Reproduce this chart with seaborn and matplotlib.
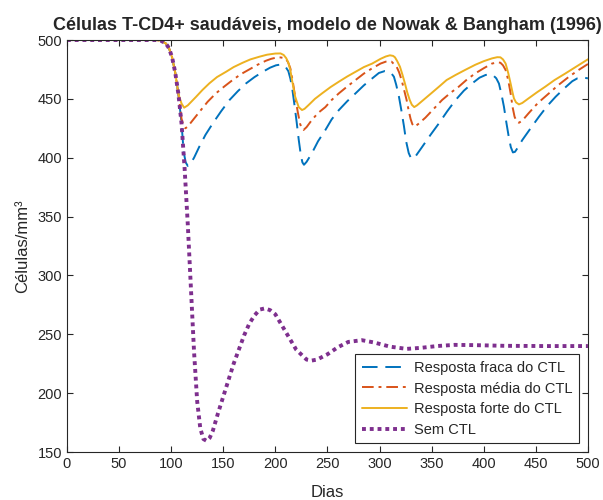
import numpy as np
import pandas as pd
import matplotlib
matplotlib.use("Agg")
import matplotlib.pyplot as plt
import seaborn as sns

# valores (dias, celulas/mm3)
dias_fraca = [0, 85, 90, 95, 98, 101, 104, 107, 110, 112, 114, 116, 118, 122, 127, 133, 140,
              148, 156, 164, 172, 180, 188, 195, 200.6, 204, 207, 210, 212.5, 214.5, 216.5,
              218.5, 220.5, 222.5, 224.5, 226, 227.5, 230, 235, 241, 248, 254, 261, 269, 277,
              285, 293, 299.4, 305, 309, 311.5, 313.8, 316, 318.6, 321, 323.4, 325.5, 328, 330,
              331.5, 334, 341, 349, 357, 365, 373, 381, 389, 396, 401.8, 406, 409, 412, 414.6,
              417, 419.4, 421.7, 424, 426, 428, 430, 433, 437, 445, 453, 461, 469, 478, 485,
              490, 494.6, 500]
cel_fraca = [500, 500, 499.5, 497, 493, 485, 472, 454, 429, 405, 396, 393, 394, 400, 409.3,
             419.5, 429.2, 439.5, 449, 456.5, 463.2, 468.5, 473, 476.5, 478.5, 479, 478.8, 477,
             473.5, 467, 457, 444, 430, 415, 402, 396, 394, 396.5, 403.7, 414, 423.5, 432.5,
             440.5, 448, 454.7, 461.5, 467.4, 472, 473.6, 473, 471.5, 468.8, 462, 452, 440, 427,
             414, 404, 400, 399, 400.5, 409.3, 419.5, 429.2, 439.5, 449, 457, 463.2, 468, 470.3,
             470.8, 470, 467.5, 463, 454, 443.3, 430, 417.8, 409, 404.5, 405, 409, 415, 425,
             434.8, 444, 451.8, 459.5, 465, 467.5, 468.3, 467.4]

dias_media = [0, 85, 90, 95, 98, 101, 104, 107, 110, 112, 113.7, 116, 120, 127.2, 135, 143,
              151, 159, 167, 175, 183, 191, 196, 200.6, 205, 209.6, 212, 214.4, 216.5, 219,
              221.5, 223.7, 225.5, 227, 230, 235, 241, 248, 254, 261, 269, 277, 285, 293, 301,
              306, 311.5, 316.4, 318.8, 321.2, 323.6, 326, 328, 329.8, 331.5, 333.6, 337, 344,
              352, 360, 368, 376, 384, 392, 400, 408, 413, 416, 418.5, 421, 423.5, 425.8,
              427.7, 429.6, 431.5, 433.8, 437, 443, 452, 462.6, 472, 481.8, 491, 500]
cel_media = [500, 500, 499.5, 497, 493, 485, 472, 454, 433, 427, 425, 426.5, 431, 439, 447.5,
             454.7, 460.5, 466, 471, 475, 479, 482.4, 484, 485, 485.2, 484.4, 481.5, 476, 466,
             452, 439, 429, 424.5, 423.5, 426, 432, 438, 443, 449, 454.7, 460.5, 466, 471.5,
             476, 480, 481.6, 481.6, 477.3, 472.5, 466, 457.5, 449, 440, 433, 428.5, 426.3,
             428.5, 434, 441.5, 449, 455, 460.3, 466.5, 471.7, 476, 480, 481, 480.7, 478.5,
             474.5, 466, 454.7, 443, 434.8, 431, 429.7, 431.5, 437.7, 446.5, 454.7, 462,
             468.8, 474.5, 479.6]

dias_forte = [0, 85, 90, 95, 98, 101, 104, 107, 110, 112.5, 116, 124, 130, 136.7, 144, 152.7,
              160, 168.7, 176, 184.7, 192, 200, 205, 208, 210.5, 212.8, 214.5, 216, 219, 222.4,
              225.6, 228, 232, 238, 244.9, 253, 261, 269, 277, 285, 293, 301, 306, 310, 313,
              314.8, 317, 319.6, 322, 324.4, 326.6, 329, 331, 333.3, 336, 342, 350, 357, 364.4,
              373, 382, 392, 400, 408, 413, 416, 418.5, 421, 423.5, 425.8, 427.5, 429, 431,
              433.8, 437, 443, 451, 459, 468, 478.6, 489, 500]
cel_forte = [500, 500, 499.5, 497, 493, 485, 472, 454, 446, 442.5, 444.5, 451.8, 457.5, 463.2,
             468.5, 473, 477, 480.7, 483.5, 485.8, 487.5, 488.5, 488.6, 487.3, 484.5, 480, 474,
             466, 452, 443, 440.5, 441.5, 444.8, 450, 454.7, 460, 464.6, 469, 473, 477, 480,
             484, 486, 487, 486.5, 485.3, 482, 477.3, 470.5, 463, 455.5, 449, 445, 443, 444.5,
             449, 455, 460.3, 466, 470.3, 474.5, 479, 482, 484.4, 485.4, 485.3, 483.5, 480, 472,
             463, 456, 450.4, 447, 445.3, 446.5, 450.4, 455.5, 460.3, 466, 471.7, 477.5, 483.6]

dias_sem = [0, 85, 90, 95, 98, 101, 104, 107, 110, 113, 116, 119, 122, 125, 128, 131, 134,
            137, 140, 145, 150, 155, 160, 165, 170, 175, 180, 185, 190, 195, 200, 210, 220,
            230, 235, 240, 250, 260, 270, 283, 295, 310, 326, 340, 355, 372, 390, 420, 460, 500]
cel_sem = [500, 500, 499.5, 497, 493, 485, 472, 454, 429, 390, 343, 289, 235, 193, 170, 161,
           159.5, 162, 168, 183, 197, 211, 225, 237, 249, 259, 266, 271, 272, 270.5, 267, 252,
           237, 228.5, 227.7, 228.5, 233, 239, 243.5, 245, 243, 239.5, 237.6, 238.5, 240, 241,
           240.8, 240.2, 240, 240]

rotulos = ["Resposta fraca do CTL", "Resposta média do CTL",
           "Resposta forte do CTL", "Sem CTL"]

sns.set_theme(style="ticks")
plt.rcParams["font.family"] = ["Liberation Sans", "DejaVu Sans"]
plt.rcParams["axes.edgecolor"] = "#262626"
plt.rcParams["axes.linewidth"] = 0.8

fig = plt.figure(figsize=(6.03, 5.0), dpi=100)
ax = fig.add_axes([0.111, 0.096, 0.864, 0.824])

sns.lineplot(x=dias_fraca, y=cel_fraca, ax=ax, color="#0072BD", linewidth=1.4,
             label=rotulos[0]).lines[-1].set_dashes([8, 4])
sns.lineplot(x=dias_media, y=cel_media, ax=ax, color="#D95319", linewidth=1.4,
             label=rotulos[1]).lines[-1].set_dashes([6, 2.5, 1.5, 2.5])
sns.lineplot(x=dias_forte, y=cel_forte, ax=ax, color="#EDB120", linewidth=1.4,
             label=rotulos[2])
sns.lineplot(x=dias_sem, y=cel_sem, ax=ax, color="#7E2F8E", linewidth=2.8,
             label=rotulos[3]).lines[-1].set_dashes([1, 1])

ax.set_xlim(0, 500)
ax.set_ylim(150, 500)
ax.set_xticks(np.arange(0, 501, 50))
ax.set_yticks(np.arange(150, 501, 50))
ax.tick_params(direction="in", top=True, right=True, labelsize=10.5, length=4,
               colors="#262626", width=0.8)
for s in ax.spines.values():
    s.set_visible(True)

ax.set_title("Células T-CD4+ saudáveis, modelo de Nowak & Bangham (1996)",
             fontsize=12.95, fontweight="bold", pad=7)
ax.set_xlabel("Dias", fontsize=12, labelpad=10)
ax.set_ylabel("Células/mm³", fontsize=12, labelpad=5)

leg = ax.legend(loc="lower right", fontsize=10.5, frameon=True, fancybox=False,
                borderaxespad=0.6, handlelength=3.1, labelspacing=0.45,
                borderpad=0.45, handletextpad=0.5)
leg.get_frame().set_edgecolor("#262626")
leg.get_frame().set_linewidth(0.8)
leg.get_frame().set_alpha(1)

fig.savefig("out.png", dpi=100)
